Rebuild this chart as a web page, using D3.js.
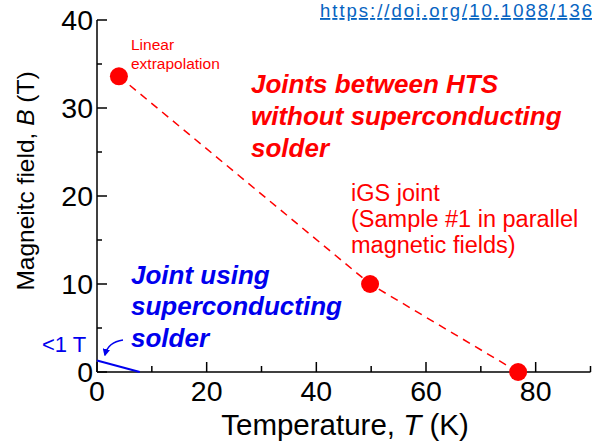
<!DOCTYPE html>
<html><head><meta charset="utf-8">
<script src="https://cdn.jsdelivr.net/npm/d3@7"></script>
<style>body{margin:0;background:#fff}svg{display:block}</style>
</head><body>
<script>
// Data
const htsTemps = [4.0, 49.8, 76.8];
const htsFields = [33.6, 10.0, 0.0];
const solderTemps = [0, 7.8];
const solderFields = [1.3, 0];
const xMajorTicks = [0, 20, 40, 60, 80];
const xMinorTicks = [10, 30, 50, 70, 90];
const yMajorTicks = [0, 10, 20, 30, 40];
const yMinorTicks = [5, 15, 25, 35];

const W = 596, H = 443;
const svg = d3.select("body").append("svg").attr("width", W).attr("height", H);
const x = d3.scaleLinear().domain([0, 90]).range([97, 590.5]);
const y = d3.scaleLinear().domain([0, 40]).range([372, 20]);
const font = "Arial, 'Liberation Sans', sans-serif";
const red = "#ff0000", blue = "#0000ee";

// Axes
const axisG = svg.append("g").attr("stroke", "#000").attr("stroke-width", 1.5);
axisG.append("line").attr("x1", x(0)).attr("x2", x(0)).attr("y1", y(0)).attr("y2", y(40));
axisG.append("line").attr("x1", x(0)).attr("x2", x(90)).attr("y1", y(0)).attr("y2", y(0));
yMajorTicks.forEach(v => axisG.append("line").attr("x1", x(0)).attr("x2", x(0) + 10).attr("y1", y(v)).attr("y2", y(v)));
yMinorTicks.forEach(v => axisG.append("line").attr("x1", x(0)).attr("x2", x(0) + 5).attr("y1", y(v)).attr("y2", y(v)));
xMajorTicks.forEach(v => axisG.append("line").attr("x1", x(v)).attr("x2", x(v)).attr("y1", y(0)).attr("y2", y(0) - 10));
xMinorTicks.forEach(v => axisG.append("line").attr("x1", x(v)).attr("x2", x(v)).attr("y1", y(0)).attr("y2", y(0) - 6));

svg.append("g").selectAll("text").data(yMajorTicks).join("text")
  .attr("x", x(0) - 4).attr("y", d => y(d) + 10).attr("text-anchor", "end")
  .attr("font-family", font).attr("font-size", 28.5).text(d => d);
svg.append("g").selectAll("text").data(xMajorTicks).join("text")
  .attr("x", d => x(d)).attr("y", 401).attr("text-anchor", "middle")
  .attr("font-family", font).attr("font-size", 28.5).text(d => d);

// Axis titles
const xt = svg.append("text").attr("x", 345).attr("y", 435).attr("text-anchor", "middle")
  .attr("font-family", font).attr("font-size", 29.5);
xt.append("tspan").text("Temperature, ");
xt.append("tspan").attr("font-style", "italic").text("T");
xt.append("tspan").text(" (K)");
const yt = svg.append("text").attr("transform", "translate(34,181) rotate(-90)").attr("text-anchor", "middle")
  .attr("font-family", font).attr("font-size", 24.5);
yt.append("tspan").text("Magneitc field, ");
yt.append("tspan").attr("font-style", "italic").text("B");
yt.append("tspan").text(" (T)");

// HTS joint data
const pts = htsTemps.map((t, i) => [t, htsFields[i]]);
svg.append("path").attr("d", d3.line().x(d => x(d[0])).y(d => y(d[1]))(pts))
  .attr("fill", "none").attr("stroke", red).attr("stroke-width", 1.5).attr("stroke-dasharray", "8,6");
svg.append("g").selectAll("circle").data(pts).join("circle")
  .attr("cx", d => x(d[0])).attr("cy", d => y(d[1])).attr("r", 9).attr("fill", red);

// Solder line
const sp = solderTemps.map((t, i) => [t, solderFields[i]]);
svg.append("path").attr("d", d3.line().x(d => x(d[0])).y(d => y(d[1]))(sp))
  .attr("fill", "none").attr("stroke", blue).attr("stroke-width", 2);

// Arrow
svg.append("defs").append("marker").attr("id", "ah").attr("viewBox", "0 0 10 10")
  .attr("refX", 8).attr("refY", 5).attr("markerWidth", 5).attr("markerHeight", 5).attr("orient", "auto")
  .append("path").attr("d", "M0,0 L10,5 L0,10 z").attr("fill", blue);
svg.append("path").attr("d", "M123,340 Q108,342 105,355").attr("fill", "none")
  .attr("stroke", blue).attr("stroke-width", 1.5).attr("marker-end", "url(#ah)");

// Annotations
function lines(arr, x0, y0, dy, attrs) {
  arr.forEach((s, i) => {
    const t = svg.append("text").attr("x", x0).attr("y", y0 + i * dy).attr("font-family", font).text(s);
    Object.entries(attrs).forEach(([k, v]) => t.attr(k, v));
  });
}
lines(["Linear", "extrapolation"], 131, 50, 18.5, {"font-size": 15.5, fill: red});
lines(["Joints between HTS", "without superconducting", "solder"], 251, 93, 31.8,
  {"font-size": 26, "font-weight": "bold", "font-style": "italic", fill: red});
lines(["iGS joint", "(Sample #1 in parallel", "magnetic fields)"], 351, 201, 26.2, {"font-size": 23.5, fill: red});
lines(["Joint using", "superconducting", "solder"], 131, 283.5, 31.5,
  {"font-size": 26, "font-weight": "bold", "font-style": "italic", fill: blue});
lines(["<1 T"], 42, 352, 0, {"font-size": 22, fill: blue});

// URL
svg.append("text").attr("x", 320).attr("y", 17).attr("font-family", "'Liberation Sans', Arial, sans-serif")
  .attr("font-size", 18.5).attr("fill", "#0563c1").attr("text-decoration", "underline")
  .attr("textLength", 272).attr("lengthAdjust", "spacing")
  .text("https://doi.org/10.1088/136");
</script>
</body></html>
